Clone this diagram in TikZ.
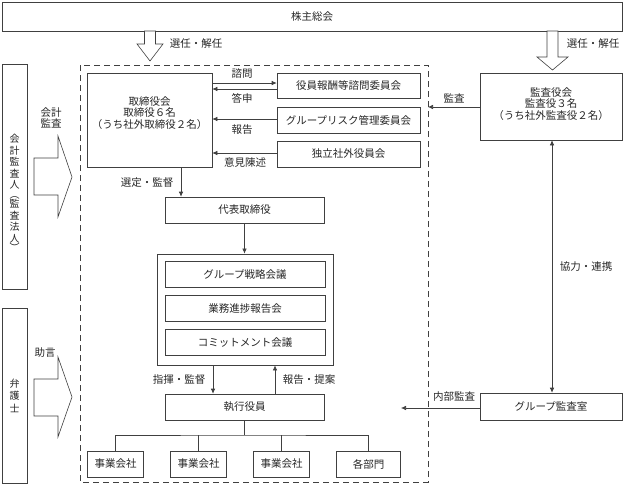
\documentclass[tikz,border=0pt]{standalone}
\usepackage{fontspec}
\setmainfont{Noto Sans CJK JP}
\usetikzlibrary{arrows.meta}

\tikzset{
  box/.style={draw=black!75, line width=0.6pt, minimum height=26pt, inner sep=1pt,
    text=black!85, font=\fontsize{10.5}{11.5}\selectfont},
  txt/.style={inner sep=0pt, align=center, text=black!85, font=\fontsize{10.5}{11.5}\selectfont},
  vtxt/.style={inner sep=0pt, align=center, text=black!85, font=\fontsize{10}{11.5}\selectfont},
  bigarrow/.style={draw=black!75, line width=0.6pt, fill=white},
  link/.style={draw=black!75, line width=0.6pt},
}

\begin{document}
\begin{tikzpicture}[x=1pt,y=-1pt,>={Latex[length=5pt,width=4.5pt]}]
\useasboundingbox (0,0) rectangle (624,485);

% shareholders meeting
\node[box, minimum width=620pt, minimum height=29pt] (agm) at (312,16.5) {株主総会};

% election arrows
\draw[bigarrow] (144.5,31) -- (155.5,31) -- (155.5,44) -- (163,44) -- (150,61) -- (137,44) -- (144.5,44) -- cycle;
\draw[bigarrow] (547,31) -- (558,31) -- (558,57) -- (568,57) -- (552.5,70) -- (537,57) -- (547,57) -- cycle;
\node[txt] at (196,44) {選任・解任};
\node[txt] at (593,44) {選任・解任};

% frame of the company
\draw[black!75, line width=0.6pt, dash pattern=on 6pt off 4pt] (80,65) rectangle (428,482);

% outside parties
\node[box, minimum width=25pt, minimum height=225pt] (auditor) at (14.5,176.5) {};
\node[vtxt] at (14.5,193) {会\\計\\監\\査\\人\\[-2pt]︵\\[-2pt]監\\査\\法\\人\\[-2pt]︶};
\node[box, minimum width=25pt, minimum height=175pt, align=center,
  font=\fontsize{10}{12.5}\selectfont] (lawyer) at (14.5,395.5) {弁\\護\\士};

\draw[bigarrow] (34,158) -- (58,158) -- (58,136) -- (72,177) -- (58,217) -- (58,195) -- (34,195) -- cycle;
\draw[bigarrow] (34,379) -- (58,379) -- (58,357) -- (72,397) -- (58,437) -- (58,416) -- (34,416) -- cycle;
\node[txt, font=\fontsize{10.5}{10.5}\selectfont] at (51,118) {会計\\監査};
\node[txt] at (45,353) {助言};

% board of directors
\node[box, minimum width=125pt, minimum height=94pt] (board) at (149.5,120) {};
\node[txt] at (149.5,113) {取締役会\\取締役６名\\（うち社外取締役２名）};

\node[box, minimum width=143pt, minimum height=25pt] (reward) at (348.5,85.5) {役員報酬等諮問委員会};
\node[box, minimum width=143pt] (risk) at (348.5,120) {グループリスク管理委員会};
\node[box, minimum width=143pt] (indep) at (348.5,154) {独立社外役員会};

\draw[link,->] (board.east |- 0,83) -- (reward.west |- 0,83);
\draw[link,->] (reward.west |- 0,89) -- (board.east |- 0,89);
\draw[link,->] (risk.west |- 0,119) -- (board.east |- 0,119);
\draw[link,->] (indep.west |- 0,153) -- (board.east |- 0,153);
\node[txt] at (242,74) {諮問};
\node[txt] at (242,98) {答申};
\node[txt] at (242,130) {報告};
\node[txt] at (245,163) {意見陳述};

% representative director
\node[box, minimum width=159pt] (ceo) at (244.5,210) {代表取締役};
\draw[link,->] (board.south -| 181,0) -- (ceo.north -| 181,0);
\node[txt] at (147,183) {選定・監督};

% meetings
\node[box, line width=0.8pt, minimum width=176pt, minimum height=111pt] (meet) at (245,309.5) {};
\node[box, minimum width=160pt] (strat) at (245,274.5) {グループ戦略会議};
\node[box, minimum width=160pt] (prog) at (245,308.5) {業務進捗報告会};
\node[box, minimum width=160pt] (commit) at (245,342.5) {コミットメント会議};
\draw[link,->] (ceo.south) -- (ceo.south |- meet.north);

% executive officers
\node[box, minimum width=159pt] (exec) at (244.5,407) {執行役員};
\draw[link,->] (meet.south -| 213,0) -- (exec.north -| 213,0);
\draw[link,->] (exec.north -| 275,0) -- (meet.south -| 275,0);
\node[txt] at (179,380) {指揮・監督};
\node[txt] at (309,380) {報告・提案};

% companies and divisions
\node[box, minimum width=56pt] (co1) at (115.5,464) {事業会社};
\node[box, minimum width=56pt] (co2) at (198.5,464) {事業会社};
\node[box, minimum width=56pt] (co3) at (281.5,464) {事業会社};
\node[box, minimum width=64pt] (dept) at (368.5,464) {各部門};
\coordinate (split) at (244.5,435);
\draw[link] (exec.south) -- (split);
\draw[link] (co1.north) |- (split) -| (dept.north);
\draw[link] (co2.north) -- (co2.north |- split);
\draw[link] (co3.north) -- (co3.north |- split);

% audit & supervisory board
\node[box, minimum width=142pt, minimum height=67pt] (kansa) at (551,106.5) {};
\node[txt] at (551,104) {監査役会\\監査役３名\\（うち社外監査役２名）};
\coordinate (frameE) at (428,107);
\draw[link,->] (kansa.west |- frameE) -- (frameE);
\node[txt] at (454,98) {監査};

% internal audit
\node[box, minimum width=142pt, minimum height=27pt] (gaudit) at (551,406.5) {グループ監査室};
\coordinate (frameIn) at (401,408);
\draw[link,->] (gaudit.west |- frameIn) -- (frameIn);
\node[txt] at (454,397) {内部監査};
\draw[link,<->] (kansa.south -| 552,0) -- (gaudit.north -| 552,0);
\node[txt] at (586,267) {協力・連携};
\end{tikzpicture}
\end{document}
